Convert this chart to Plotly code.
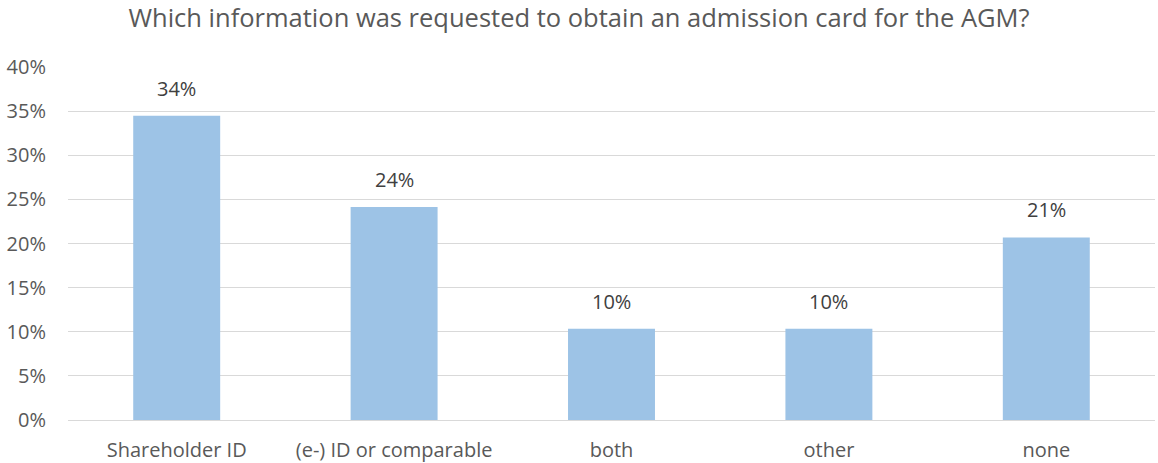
import plotly.graph_objects as go

categories = ["Shareholder ID", "(e-) ID or comparable", "both", "other", "none"]
shares = [34.48, 24.14, 10.34, 10.34, 20.69]  # percent of respondents
y_ticks = [0, 5, 10, 15, 20, 25, 30, 35, 40]

title_text = "Which information was requested to obtain an admission card for the AGM?"

bar_color = "#9DC3E6"
text_color = "#595959"
label_color = "#404040"
grid_color = "#D9D9D9"
font_family = "'Open Sans', sans-serif"

fig = go.Figure(
    go.Bar(
        x=categories,
        y=shares,
        width=0.4,
        marker=dict(color=bar_color, line=dict(width=0)),
        hoverinfo="x+y",
    )
)

# value labels sitting a little above each bar
for cat, val in zip(categories, shares):
    fig.add_annotation(
        x=cat,
        y=val,
        text=f"{val:.0f}%",
        showarrow=False,
        xanchor="center",
        yanchor="bottom",
        yshift=12,
        font=dict(size=20, color=label_color, family=font_family),
    )

fig.update_layout(
    width=1158,
    height=463,
    margin=dict(l=68, r=3, t=67, b=43),
    paper_bgcolor="white",
    plot_bgcolor="white",
    showlegend=False,
    title=dict(
        text=title_text,
        x=0.5,
        xanchor="center",
        y=0.962,
        yanchor="middle",
        font=dict(size=25.5, color=text_color, family=font_family),
    ),
    font=dict(family=font_family, color=text_color, size=20),
)

fig.update_yaxes(
    range=[0, 40],
    tickvals=y_ticks,
    ticktext=[f"{v}%" for v in y_ticks],
    showgrid=True,
    gridcolor=grid_color,
    gridwidth=1,
    zeroline=True,
    zerolinecolor=grid_color,
    zerolinewidth=1,
    showline=False,
    ticks="",
    ticklabelstandoff=21,
    automargin=False,
    tickfont=dict(size=20, color=text_color, family=font_family),
)

fig.update_xaxes(
    showline=False,
    ticks="",
    showgrid=False,
    ticklabelstandoff=16,
    automargin=False,
    tickfont=dict(size=20, color=text_color, family=font_family),
)

fig.write_html("out.html")
